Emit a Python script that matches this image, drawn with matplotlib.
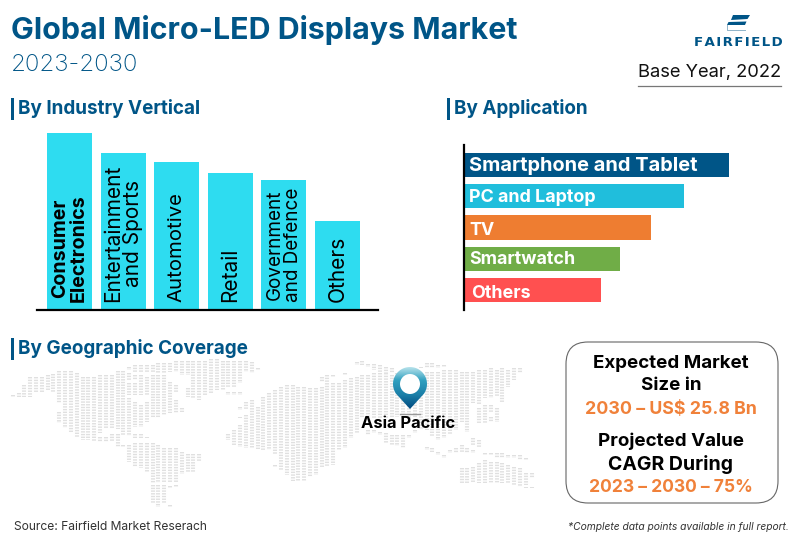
import numpy as np
import matplotlib
matplotlib.use("Agg")
import matplotlib.pyplot as plt
from matplotlib.patches import FancyBboxPatch, Polygon, Circle, Rectangle

plt.rcParams['font.family'] = ['Inter', 'DejaVu Sans']
plt.rcParams['lines.scale_dashes'] = False

BLUE = '#005587'
ORANGE = '#F0813A'

# by industry vertical
industries = ['Consumer\nElectronics', 'Entertainment\nand Sports', 'Automotive',
              'Retail', 'Government\nand Defence', 'Others']
industry_values = [177, 157, 148, 137, 130, 89]

# by application
applications = ['Smartphone and Tablet', 'PC and Laptop', 'TV', 'Smartwatch', 'Others']
application_values = [265, 220, 187, 156, 137]
application_colors = [BLUE, '#20BEDC', '#EE7D31', '#70AD47', '#FF5050']

# dotted world map: column number -> vertical runs of dots (top, bottom)
map_columns = {
    0: [(120, 125)], 1: [(115, 125)], 2: [(90, 125)], 3: [(67, 125)], 4: [(67, 113)],
    5: [(65, 112)], 6: [(60, 108)], 7: [(58, 112)], 8: [(48, 145), (172, 203)],
    9: [(48, 220)], 10: [(48, 235)], 11: [(55, 248)], 12: [(65, 255)], 13: [(65, 255)],
    14: [(65, 262)], 15: [(60, 235), (245, 262)], 16: [(60, 222), (245, 262)],
    17: [(60, 222), (238, 262)], 18: [(48, 222), (238, 275)], 19: [(48, 242), (270, 275)],
    20: [(35, 45), (55, 75), (85, 120), (130, 242), (270, 320)],
    21: [(30, 50), (60, 75), (85, 120), (140, 215), (238, 248), (265, 335)],
    22: [(30, 50), (60, 120), (150, 215), (238, 248), (265, 340)],
    23: [(30, 50), (65, 120), (140, 200), (245, 248), (265, 350)],
    24: [(30, 50), (60, 190), (265, 385), (390, 445)],
    25: [(25, 55), (60, 190), (270, 385), (390, 455)],
    26: [(25, 55), (60, 180), (278, 385), (390, 445)],
    27: [(25, 50), (80, 175), (278, 380), (392, 400), (450, 455)],
    28: [(18, 50), (90, 115), (135, 175), (278, 380), (390, 395)],
    29: [(18, 60), (160, 170), (290, 358)],
    30: [(18, 60), (100, 125), (298, 350)],
    31: [(18, 130), (298, 350)], 32: [(18, 135), (298, 322)], 33: [(18, 120)],
    34: [(12, 115)], 35: [(12, 105)], 36: [(18, 105)], 37: [(18, 100), (110, 120), (238, 255)],
    38: [(18, 95), (110, 120), (225, 270)], 39: [(18, 85), (110, 120), (155, 165), (185, 190), (210, 275)],
    40: [(18, 50), (140, 165), (180, 280)], 41: [(22, 55), (135, 280)], 42: [(38, 45), (155, 282)],
    43: [(125, 285)], 44: [(115, 285)], 45: [(105, 300), (330, 335)], 46: [(95, 345)],
    47: [(90, 360)], 48: [(90, 378)], 49: [(95, 378)], 50: [(95, 378)], 51: [(100, 365)],
    52: [(100, 360)], 53: [(65, 80), (95, 340)], 54: [(60, 335)], 55: [(60, 65), (85, 330)],
    56: [(85, 285)], 57: [(55, 60), (75, 280)], 58: [(70, 250)], 59: [(20, 30), (65, 235)],
    60: [(18, 30), (60, 190)], 61: [(28, 35), (60, 190), (225, 240)],
    62: [(28, 45), (55, 190), (225, 235)], 63: [(30, 50), (55, 190), (230, 240)],
    64: [(35, 55), (55, 190), (235, 265)], 65: [(40, 55), (60, 190), (240, 270)],
    66: [(55, 185), (240, 272)], 67: [(55, 190), (240, 280)], 68: [(55, 190), (240, 250)],
    69: [(60, 190), (225, 235)], 70: [(35, 40), (55, 225)], 71: [(25, 40), (50, 225), (275, 285)],
    72: [(25, 40), (50, 245), (280, 290)], 73: [(30, 40), (50, 255), (290, 300)],
    74: [(30, 35), (45, 250), (300, 310)], 75: [(45, 240), (285, 295)], 76: [(45, 225), (280, 295)],
    77: [(50, 200), (270, 295), (340, 385)], 78: [(50, 230), (280, 295), (340, 385)],
    79: [(50, 145), (250, 270), (285, 295), (335, 385)],
    80: [(45, 150), (160, 205), (255, 275), (325, 385)],
    81: [(45, 130), (150, 205), (295, 300), (315, 385)],
    82: [(40, 130), (150, 175), (185, 200), (295, 300), (320, 385)],
    83: [(45, 125), (160, 200), (295, 310), (320, 385)],
    84: [(40, 140), (295, 310), (325, 385)], 85: [(45, 95), (300, 310), (330, 385)],
    86: [(40, 75), (300, 310), (335, 390)], 87: [(40, 55), (300, 315), (340, 395)],
    88: [(310, 315), (355, 390), (395, 400)], 89: [(355, 370), (395, 400)],
}

W, H = 800, 536
fig = plt.figure(figsize=(W / 100, H / 100), dpi=100, facecolor='white')

# page layer in pixel coordinates, for the text and decoration
bg = fig.add_axes([0, 0, 1, 1])
bg.set_xlim(0, W)
bg.set_ylim(H, 0)
bg.axis('off')

bg.text(11, 30, 'Global Micro-LED Displays Market', color=BLUE, fontsize=21.9,
        fontweight='bold', va='center')
bg.text(11, 65, '2023-2030', color=BLUE, fontsize=17.3, va='center', fontweight='light')

# logo
bg.add_patch(Polygon([(733, 15), (750, 15), (747.5, 19), (731, 20)], color=BLUE, lw=0))
bg.add_patch(Polygon([(728.5, 22), (746.5, 21.5), (745, 25), (727, 25)], color=BLUE, lw=0))
bg.plot([727, 727, 745], [25, 30, 30], color='#8fb3c9', lw=0.7)
bg.text(738, 43, '\u200a'.join('FAIRFIELD'), color=BLUE, fontsize=9.6, fontweight='bold',
        ha='center', va='center', family='DejaVu Sans')

bg.text(781, 73, 'Base Year, 2022', color='#111111', fontsize=13.2, ha='right', va='center')
bg.plot([638, 781], [86, 86], color='#777777', lw=0.9)

# section headers
for x, y, name in [(11, 108, 'By Industry Vertical'), (447, 108, 'By Application'),
                   (11, 348, 'By Geographic Coverage')]:
    bg.add_patch(Rectangle((x, y - 10), 3, 22, color=BLUE, lw=0))
    bg.text(x + 7, y + 1, name, color=BLUE, fontsize=13.6, fontweight='bold', va='center')

# map
for col, runs in map_columns.items():
    for top, bottom in runs:
        bg.vlines(12.67 + 5.83 * col, 355 + top / 3, 355 + bottom / 3, color='#e0e0e0',
                  lw=2.9, linestyles=[(0, (1.0, 0.95))])

# pin with a vertical colour fade
theta = np.linspace(np.radians(-215), np.radians(35), 60)
pin_pts = np.column_stack([410 + 17 * np.cos(theta), 384 + 17 * np.sin(theta)])
pin_pts = np.vstack([pin_pts, [[410, 409]]])
fade = matplotlib.colors.LinearSegmentedColormap.from_list(
    'pin', ['#bfe6ee', '#2f9fbf', '#1b7fa8', '#004a80'])
im = bg.imshow(np.linspace(0, 1, 64).reshape(-1, 1), cmap=fade, aspect='auto',
               extent=(392, 428, 409, 366), zorder=3)
im.set_clip_path(Polygon(pin_pts, transform=bg.transData))
bg.add_patch(Circle((410, 384), 10, color='white', lw=0, zorder=4))
bg.plot([400, 420], [414, 414], color='#999999', lw=1, zorder=3)
bg.set_xlim(0, W)
bg.set_ylim(H, 0)
bg.text(408, 424, 'Asia Pacific', color='black', fontsize=11.9, fontweight='bold',
        ha='center', va='center', zorder=5)

# market size box
bg.add_patch(FancyBboxPatch((586, 362), 172, 121, boxstyle='round,pad=20,rounding_size=22',
                            fc='white', ec='#666666', lw=0.8))
box_lines = [(363, 'Expected Market', 'black', 13.5), (386, 'Size in', 'black', 13.5),
             (409, '2030 – US$ 25.8 Bn', ORANGE, 12.8), (441, 'Projected Value', 'black', 13.5),
             (464, 'CAGR During', 'black', 14), (488, '2023 – 2030 – 75%', ORANGE, 12.6)]
for y, line, color, size in box_lines:
    bg.text(671, y, line, color=color, fontsize=size, fontweight='bold', ha='center', va='center')

bg.text(14, 527, 'Source: Fairfield Market Reserach', color='#333333', fontsize=8.7, va='center')
bg.text(789, 527, '*Complete data points available in full report.', color='#333333',
        fontsize=7.4, style='italic', ha='right', va='center')

# industry bars, axes spans x 37-378 and y 130-310 px
ax1 = fig.add_axes([37 / W, 1 - 310 / H, 341 / W, 180 / H])
ax1.patch.set_alpha(0)
pos = np.arange(len(industries))
ax1.bar(pos, industry_values, width=0.84, color='#2EDCF0')
ax1.set_xlim(-0.606, 5.755)
ax1.set_ylim(0, 180)
for s in ['top', 'left', 'right']:
    ax1.spines[s].set_visible(False)
ax1.spines['bottom'].set_linewidth(1.6)
ax1.set_xticks([])
ax1.set_yticks([])
vertical_sizes = [14.1, 15, 14.6, 15, 13.6, 15]
for i, name in enumerate(industries):
    ax1.text(pos[i], 8, name, rotation=90, ha='center', va='bottom', color='black',
             fontsize=vertical_sizes[i], fontweight='bold' if i == 0 else 'normal',
             linespacing=1.0)

# application bars, axes spans x 463-760 and y 145-310 px
ax2 = fig.add_axes([463.5 / W, 1 - 310 / H, 297 / W, 165 / H])
ax2.patch.set_alpha(0)
rows = np.arange(len(applications))
ax2.barh(rows, application_values, height=0.78, color=application_colors)
ax2.set_xlim(0, 297)
ax2.set_ylim(4.64, -0.64)
for s in ['top', 'bottom', 'right']:
    ax2.spines[s].set_visible(False)
ax2.spines['left'].set_linewidth(1.6)
ax2.set_xticks([])
ax2.set_yticks([])
label_sizes = [14.4, 12.9, 12.9, 12.9, 12.9]
label_shift = [0.03, 0.03, 0.1, 0.03, 0.1]
for i, name in enumerate(applications):
    ax2.text(7.5 if name == 'Others' else 5.5, rows[i] + label_shift[i], name, color='white',
             fontsize=label_sizes[i], fontweight='bold', va='center')

fig.savefig('out.png', dpi=100)
